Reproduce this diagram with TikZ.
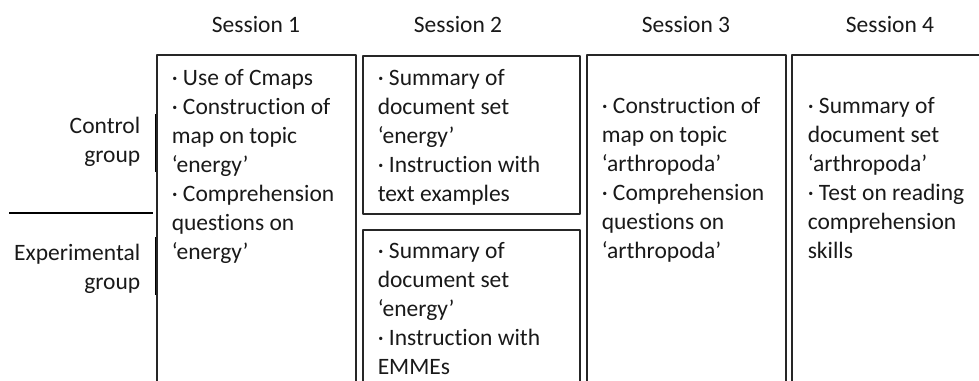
\documentclass[tikz,border=0pt]{standalone}
\usepackage{fontspec}
\setmainfont{Carlito}[Ligatures={TeX,NoCommon}]
\begin{document}
\begin{tikzpicture}[x=1pt, y=-1pt, line join = round, line width=1.5pt, draw=black!85,
	txt/.style={inner sep=0pt, text=black!90, font=\fontsize{23.5}{29}\selectfont},
	cell/.style={txt, anchor=base west, align=left}]
	\useasboundingbox (0,0) rectangle (979,380);
	\clip (0,0) rectangle (979,380);
	\pgfmathsetmacro\yt{55};
	\pgfmathsetmacro\yb{400};
	% sessions
	\node[txt, anchor=base] (s1) at (256,32) {Session 1};
	\node[txt, anchor=base] (s2) at (458,32) {Session 2};
	\node[txt, anchor=base] (s3) at (686,32) {Session 3};
	\node[txt, anchor=base] (s4) at (890,32) {Session 4};
	% groups (base = last line)
	\node[txt, anchor=base east, align=right] (ctrl) at (141,162) {Control\\group};
	\node[txt, anchor=base east, align=right] (expe) at (141,289) {Experimental\\group};
	\draw[black, line width=2pt] (9,213) -- (153,213);
	\draw[black, line width=3pt] (156,114) -- (156,172) (156,237) -- (156,295);
	% boxes
	\draw (157,\yt) rectangle (356,\yb);
	\draw (363,\yt+1) rectangle (580,214);
	\draw (363,230) rectangle (580,\yb);
	\draw (587,\yt) rectangle (786,\yb);
	\draw (792,\yt) rectangle (1000,\yb);
	% contents (base = last line)
	\node[cell] (c1) at (171,259) {· Use of Cmaps\\· Construction of\\map on topic\\‘energy’\\· Comprehension\\questions on\\‘energy’};
	\node[cell] (c2) at (377,201) {· Summary of\\document set\\‘energy’\\· Instruction with\\text examples};
	\node[cell] (e2) at (377,374) {· Summary of\\document set\\‘energy’\\· Instruction with\\EMMEs};
	\node[cell] (c3) at (601,258) {· Construction of\\map on topic\\‘arthropoda’\\· Comprehension\\questions on\\‘arthropoda’};
	\node[cell] (c4) at (807,258) {· Summary of\\document set\\‘arthropoda’\\· Test on reading\\comprehension\\skills};
\end{tikzpicture}
\end{document}
